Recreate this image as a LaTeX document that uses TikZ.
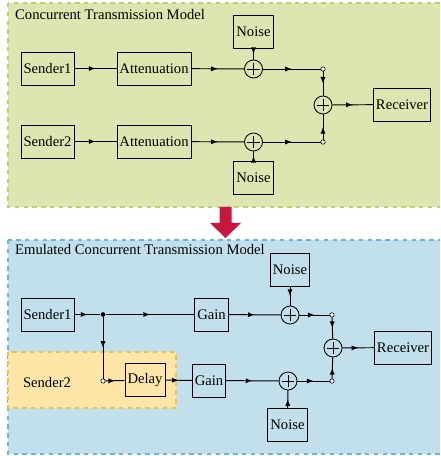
\documentclass[tikz,border=0pt]{standalone}
\usepackage{fontspec}
\setmainfont{Liberation Serif}
\usetikzlibrary{decorations.markings}
\definecolor{panelgreen}{HTML}{DDE5B0}
\definecolor{edgegreen}{HTML}{B8D26A}
\definecolor{panelblue}{HTML}{C2E0EB}
\definecolor{edgeblue}{HTML}{6AB4D8}
\definecolor{panelorange}{HTML}{FDE6A8}
\definecolor{edgeorange}{HTML}{F5C042}
\definecolor{arrowred}{HTML}{C8173F}
\tikzset{>=latex}
\tikzset{
  block/.style={draw, line width=0.6pt, minimum height=22.5pt, inner xsep=1.7pt, inner ysep=0pt},
  adder/.style={draw, circle, line width=0.6pt, minimum size=12.3pt, inner sep=0pt,
    path picture={\draw[line width=0.6pt] (path picture bounding box.center) ++(-4.3pt,0) -- ++(8.6pt,0);
                  \draw[line width=0.6pt] (path picture bounding box.center) ++(0,-4.3pt) -- ++(0,8.6pt);}},
  joint/.style={draw, circle, fill=white, line width=0.4pt, minimum size=3pt, inner sep=0pt},
  branch/.style={fill=black, circle, minimum size=3.2pt, inner sep=0pt},
  midarrow/.style={line width=0.65pt, decoration={markings, mark=at position 0.5 with {\arrow[scale=0.95]{>}}}, postaction={decorate}},
}

\begin{document}
\begin{tikzpicture}[x=0.683pt, y=-0.683pt]
  \useasboundingbox (0,0) rectangle (440,456);
  \clip (0,0) rectangle (440,456);

  % Panels
  \draw[fill=panelgreen, draw=edgegreen, dashed, line width=0.8pt] (8,3) rectangle (446,207);
  \draw[fill=panelblue, draw=edgeblue, dashed, line width=0.8pt] (8,240) rectangle (446,454);
  \draw[fill=panelorange, draw=edgeorange, dashed, line width=0.8pt] (8,352) rectangle (176,408);
  \fill[arrowred] (219.5,207) -- (231.5,207) -- (231.5,223) -- (241,223) -- (225.5,238)
    -- (210,223) -- (219.5,223) -- cycle;

  \node[anchor=west] (ttop) at (10,14) {Concurrent Transmission Model};
  \node[anchor=west] (tbot) at (10,249) {Emulated Concurrent Transmission Model};

  % Concurrent model
  \node[block] (s1) at (47.5,68.5) {Sender1};
  \node[block] (a1) at (154,68.5) {Attenuation};
  \node[block] (n1) at (253.5,31.5) {Noise};
  \node[adder] (p1) at (253.5,69) {};
  \node[joint] (j1) at (323,69) {};
  \node[block] (s2) at (47.5,141.5) {Sender2};
  \node[block] (a2) at (154,141.5) {Attenuation};
  \node[block] (n2) at (253.5,177.5) {Noise};
  \node[adder] (p2) at (253.5,142) {};
  \node[joint] (j2) at (323,142) {};
  \node[adder] (pm) at (323,105) {};
  \node[block] (rx) at (402,104.5) {Receiver};

  \draw[midarrow] (s1) -- (a1);
  \draw[midarrow] (a1) -- (p1);
  \draw[midarrow] (n1) -- (p1);
  \draw[midarrow] (p1) -- (j1);
  \draw[midarrow] (j1) -- (pm);
  \draw[midarrow] (s2) -- (a2);
  \draw[midarrow] (a2) -- (p2);
  \draw[midarrow] (n2) -- (p2);
  \draw[midarrow] (p2) -- (j2);
  \draw[midarrow] (j2) -- (pm);
  \draw[midarrow] (pm) -- (rx);

  % Emulated model
  \node[block] (es1) at (47.5,314.5) {Sender1};
  \node[branch] (bd) at (103,314.5) {};
  \node[block] (g1) at (211.5,314.5) {Gain};
  \node[block] (en1) at (290,269.5) {Noise};
  \node[adder] (ep1) at (290,315) {};
  \node[joint] (ej1) at (332,315) {};
  \node (es2) at (47,382) {Sender2};
  \node[joint] (jd) at (103,381) {};
  \node[block] (dl) at (145,380) {Delay};
  \node[block] (g2) at (209,380.5) {Gain};
  \node[adder] (ep2) at (288,381) {};
  \node[joint] (ej2) at (332,381) {};
  \node[block] (en2) at (287.5,425) {Noise};
  \node[adder] (epm) at (333,348) {};
  \node[block] (erx) at (403,347.5) {Receiver};

  \draw[midarrow] (es1) -- (bd);
  \draw[midarrow] (bd) -- (g1);
  \draw[midarrow] (bd) -- (jd);
  \draw[midarrow] (jd) -- (dl);
  \draw[midarrow] (dl) -- (g2);
  \draw[midarrow] (g1) -- (ep1);
  \draw[midarrow] (en1) -- (ep1);
  \draw[midarrow] (ep1) -- (ej1);
  \draw[midarrow] (ej1) -- (epm);
  \draw[midarrow] (g2) -- (ep2);
  \draw[midarrow] (en2) -- (ep2);
  \draw[midarrow] (ep2) -- (ej2);
  \draw[midarrow] (ej2) -- (epm);
  \draw[midarrow] (epm) -- (erx);
\end{tikzpicture}
\end{document}
